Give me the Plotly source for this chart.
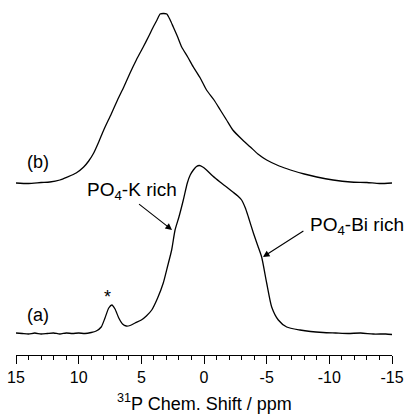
import plotly.graph_objects as go

# Spectrum (a): chemical shift (ppm) and intensity (arb. units)
ppm_a = [15, 14.5, 14, 13.5, 13, 12.5, 12, 11.5, 11, 10.5, 10, 9.5, 9, 8.6, 8.2, 7.9, 7.6, 7.35,
         7.1, 6.8, 6.5, 6.2, 5.9, 5.5, 5.0, 4.6, 4.17, 3.7, 3.25, 2.9, 2.58, 2.31, 2.0, 1.65,
         1.33, 1.1, 0.85, 0.6, 0.37, 0.1, -0.2, -0.7, -1.28, -1.8, -2.3, -2.7, -3.0, -3.3,
         -3.54, -3.94, -4.3, -4.6, -5.0, -5.4, -5.93, -6.6, -7.66, -8.5, -9.5, -10.5, -11.5,
         -12.5, -13.5, -14.5, -15]
int_a = [22, 21.5, 21, 22, 21, 21.5, 22, 21, 22, 21.5, 22, 21.5, 22.5, 24, 28, 37, 47, 50,
         46, 37, 31, 29, 29.5, 32, 35, 39, 45, 57, 72, 89, 105, 125, 138, 155,
         172, 180, 185, 188.5, 189.5, 188, 185, 179, 173, 168, 163, 159, 155, 147,
         138, 122, 109, 98, 72, 48, 35, 28, 25, 23.5, 22.5, 22, 21.5,
         22, 21, 21, 20.5]

# Spectrum (b)
ppm_b = [15, 14, 13, 12.3, 11.5, 10.9, 10.2, 9.6, 9.2, 8.8, 8.4, 8.0, 7.4, 6.9, 6.4, 5.9, 5.4,
         4.85, 4.4, 4.05, 3.75, 3.5, 3.25, 2.97, 2.7, 2.45, 2.1, 1.78, 1.3, 0.85, 0.3, -0.2,
         -0.8, -1.3, -1.8, -2.3, -3.0, -3.7, -4.3, -5.0, -6.0, -6.9, -8.0, -9.0, -10.3,
         -11.7, -13, -14, -15]
int_b = [172, 171.5, 172.5, 173, 175, 178, 182, 188, 194, 202, 213, 225, 241, 255, 268, 282, 295,
         308, 319, 328, 335, 341, 341.5, 341, 335, 328, 318, 308, 298, 288, 277, 265,
         255, 245, 235, 225, 216, 208, 201, 195, 189, 185, 181, 178, 175,
         173, 172.5, 171.5, 172]

tick_vals = [15, 10, 5, 0, -5, -10, -15]
tick_text = ["15", "10", "5", "0", "-5", "-10", "-15"]

FONT = "Liberation Sans, Arial, sans-serif"

fig = go.Figure()
fig.add_trace(go.Scatter(x=ppm_a, y=int_a, mode="lines", line=dict(color="black", width=1.3, shape="spline", smoothing=0.6)))
fig.add_trace(go.Scatter(x=ppm_b, y=int_b, mode="lines", line=dict(color="black", width=1.3, shape="spline", smoothing=0.6)))

annotations = [
    dict(x=13.25, y=193, text="(b)", showarrow=False, font=dict(size=18, color="black", family=FONT)),
    dict(x=13.25, y=40, text="(a)", showarrow=False, font=dict(size=18, color="black", family=FONT)),
    dict(x=7.66, y=58, text="*", showarrow=False, font=dict(size=18, color="black", family=FONT)),
    dict(x=5.75, y=164, text="PO<sub>4</sub>-K rich", showarrow=False, font=dict(size=19, color="black", family=FONT)),
    dict(x=-12.2, y=129, text="PO<sub>4</sub>-Bi rich", showarrow=False, font=dict(size=19, color="black", family=FONT)),
    # arrows
    dict(x=2.55, y=125, ax=5.3, ay=152, xref="x", yref="y", axref="x", ayref="y", text="",
         showarrow=True, arrowhead=2, arrowsize=1.2, arrowwidth=1.1, arrowcolor="black"),
    dict(x=-4.7, y=98, ax=-8.05, ay=125, xref="x", yref="y", axref="x", ayref="y", text="",
         showarrow=True, arrowhead=2, arrowsize=1.2, arrowwidth=1.1, arrowcolor="black"),
    dict(x=0, y=0, xref="x", yref="paper", yanchor="middle", yshift=-47, showarrow=False,
         text="<sup>31</sup>P Chem. Shift / ppm", font=dict(size=18, color="black", family=FONT)),
]

fig.update_layout(
    width=408, height=414,
    margin=dict(l=16, r=16, t=0, b=59),
    paper_bgcolor="white", plot_bgcolor="white",
    showlegend=False,
    annotations=annotations,
    font=dict(family=FONT, color="black"),
)
fig.update_xaxes(
    range=[15, -15], tickvals=tick_vals, ticktext=tick_text,
    ticks="outside", ticklen=8, tickwidth=1.2, tickcolor="black",
    showline=True, linecolor="black", linewidth=1.2,
    showgrid=False, zeroline=False,
    tickfont=dict(size=16, color="black", family=FONT),
    minor=dict(dtick=1, ticks="outside", ticklen=4, tickwidth=1, tickcolor="black", showgrid=False),
)
fig.update_yaxes(range=[0, 355], visible=False)

fig.write_html("out.html")
